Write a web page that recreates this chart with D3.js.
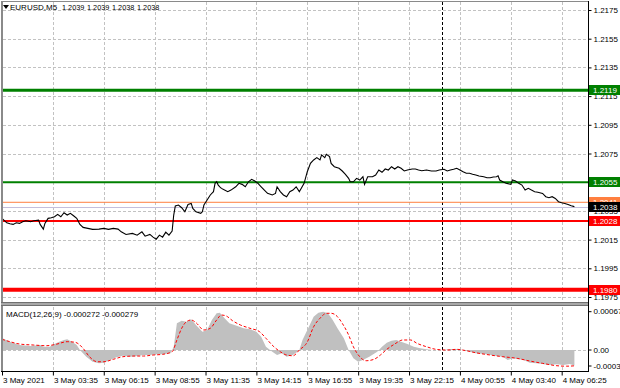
<!DOCTYPE html>
<html>
<head>
<meta charset="utf-8">
<script src="https://cdn.jsdelivr.net/npm/d3@7"></script>
<style>
	body { margin: 0; background: #fff; }
	svg { display: block; font-family: "Liberation Sans", Arial, sans-serif; }
</style>
</head>
<body>
<svg id="chart"></svg>
<script>
// chart values
const symbolTitle = "EURUSD,M5";
const ohlcText = ["1.2039", "1.2039", "1.2038", "1.2038"];
const macdTitle = "MACD(12,26,9) -0.000272 -0.000279";

const priceTicks = [1.2175, 1.2155, 1.2135, 1.2115, 1.2095, 1.2075, 1.2055, 1.2035, 1.2015, 1.1995, 1.1975];
const timeTickBars = [0, 32, 64, 96, 128, 160, 192, 224, 256, 288, 320, 352];
const timeLabels = ["3 May 2021", "3 May 03:35", "3 May 06:15", "3 May 08:55", "3 May 11:35", "3 May 14:15",
	"3 May 16:55", "3 May 19:35", "3 May 22:15", "4 May 00:55", "4 May 03:40", "4 May 06:25"];
const daySeparatorBar = 277; // 4 May 00:00
const lastBar = 360;

// horizontal levels: support / resistance, orange mark and bid
const levelValues = [1.2119, 1.2055, 1.2041, 1.2028, 1.1980];
const bidPrice = 1.2038;

const macdTicks = [0.000676, 0, -0.00034];
const macdTickLabels = ["0.000676", "0.00", "-0.00034"];

// close price [bar, price]
const closes = [
	[0,1.20298],[3,1.20267],[5,1.2026],[7,1.20256],[9,1.20267],[11,1.20263],[13,1.20274],[15,1.20281],[18,1.20274],[20,1.20281],
	[23,1.20286],[24,1.20256],[26,1.20223],[27,1.20263],[29,1.20298],[31,1.20302],[33,1.20309],[35,1.20326],[37,1.20309],[39,1.20337],
	[41,1.20321],[43,1.20333],[45,1.20316],[47,1.20298],[49,1.20256],[51,1.20235],[54,1.20228],[57,1.20221],[61,1.20223],[64,1.20228],
	[67,1.20221],[70,1.20228],[73,1.20223],[75,1.20204],[78,1.20186],[82,1.20193],[85,1.20181],[88,1.20204],[90,1.20174],[93,1.20186],
	[95,1.20167],[97,1.20153],[99,1.20181],[101,1.20167],[103,1.20202],[105,1.20181],[107,1.20209],[108,1.20321],[109,1.20384],[111,1.20391],
	[113,1.20372],[115,1.20344],[117,1.20395],[119,1.20402],[120,1.20367],[122,1.20344],[125,1.20333],[126,1.20344],[127,1.20391],[129,1.20426],
	[131,1.20461],[133,1.20484],[134,1.20542],[135,1.20553],[136,1.2053],[137,1.20518],[138,1.20507],[140,1.20495],[142,1.20484],[144,1.20495],
	[147,1.20518],[149,1.20542],[151,1.20535],[153,1.20518],[155,1.20553],[157,1.2057],[159,1.20558],[161,1.20542],[163,1.20518],[165,1.20495],
	[167,1.20472],[170,1.20461],[172,1.20472],[173,1.20518],[175,1.20484],[177,1.20461],[179,1.20449],[181,1.20484],[183,1.20495],[185,1.20518],
	[187,1.20484],[190,1.20542],[192,1.20623],[194,1.20681],[196,1.20705],[198,1.20721],[200,1.20705],[201,1.2074],[203,1.20721],[204,1.20744],
	[206,1.20728],[207,1.20681],[209,1.20658],[212,1.20647],[214,1.20628],[216,1.20605],[218,1.20577],[219,1.20553],[221,1.20553],[223,1.20577],
	[225,1.20565],[227,1.20588],[228,1.20535],[230,1.20588],[233,1.20588],[235,1.206],[237,1.20635],[239,1.20619],[241,1.20642],[243,1.20635],
	[245,1.20658],[247,1.20642],[249,1.20658],[251,1.20647],[253,1.20628],[255,1.20635],[258,1.20642],[260,1.20642],[262,1.20635],[264,1.2063],
	[267,1.20635],[270,1.20628],[273,1.20628],[275,1.20635],[278,1.2064],[280,1.20628],[282,1.20635],[284,1.2064],[286,1.20647],[288,1.20635],
	[290,1.20623],[292,1.20612],[294,1.20612],[296,1.20605],[298,1.206],[300,1.20593],[303,1.20588],[305,1.20581],[307,1.20581],[309,1.20586],
	[311,1.20588],[312,1.20595],[313,1.20565],[315,1.20553],[317,1.20542],[320,1.20535],[321,1.20565],[323,1.20558],[325,1.20542],[327,1.2053],
	[329,1.20495],[331,1.20507],[333,1.20495],[335,1.20484],[337,1.2048],[340,1.20472],[342,1.20449],[344,1.20442],[346,1.20449],[348,1.20437],
	[350,1.20414],[352,1.20407],[354,1.20402],[356,1.20395],[358,1.20386],[360,1.2038]
];

// MACD main (histogram) [bar, value]
const macdHist = [
	[0,0.000212],[5,0.000147],[11,0.000088],[18,0.000071],[24,0.000088],[26,0.000058],[30,0.000058],[33,0.000106],[36,0.000147],[39,0.000177],
	[41,0.000189],[44,0.000147],[47,0.000088],[49,0],[53,-0.000118],[57,-0.000207],[61,-0.000235],[64,-0.000224],[68,-0.000177],[72,-0.000129],
	[76,-0.000101],[81,-0.000118],[85,-0.000106],[89,-0.000088],[93,-0.000088],[97,-0.000076],[101,-0.000076],[106,-0.000058],[108,0.000058],[110,0.000471],
	[113,0.000517],[116,0.0005],[119,0.000542],[122,0.000441],[126,0.000323],[129,0.000353],[132,0.00053],[135,0.000648],[137,0.000658],[140,0.00056],
	[143,0.000471],[148,0.000424],[152,0.000383],[156,0.000365],[160,0.000323],[163,0.000235],[166,0.000058],[170,-0.00003],[173,-0.000088],[176,-0.000058],
	[179,-0.000118],[183,-0.000088],[187,0],[189,0.000177],[193,0.000411],[196,0.000588],[199,0.000658],[202,0.000676],[205,0.000648],[208,0.00053],
	[211,0.000383],[215,0.000207],[218,0],[221,-0.000147],[224,-0.000207],[227,-0.000177],[231,-0.000118],[236,-0.00003],[239,0.000058],[242,0.000129],
	[245,0.000164],[248,0.000177],[251,0.000147],[255,0.000106],[259,0.000058],[263,0.00003],[267,0.000012],[271,0],[278,0],[282,0.000018],
	[286,0.000018],[290,0],[294,-0.00003],[298,-0.000058],[305,-0.000076],[311,-0.000106],[315,-0.000118],[318,-0.000177],[321,-0.000147],[328,-0.000177],
	[332,-0.000224],[336,-0.000235],[340,-0.000247],[344,-0.000265],[349,-0.000253],[353,-0.000265],[357,-0.000247],[360,-0.000272]
];

// MACD signal line [bar, value]
const macdSignal = [
	[0,0.000189],[5,0.000147],[11,0.000106],[20,0.000088],[28,0.000076],[34,0.000101],[41,0.000147],[46,0.000136],[51,0.00003],[55,-0.000118],
	[60,-0.000207],[64,-0.000207],[70,-0.000164],[76,-0.000118],[83,-0.000106],[89,-0.000106],[95,-0.000088],[101,-0.000076],[107,-0.00003],[110,0.000177],
	[113,0.000383],[116,0.0005],[119,0.00053],[122,0.000482],[127,0.000353],[131,0.000383],[135,0.00053],[138,0.000618],[141,0.000601],[145,0.000517],
	[150,0.000441],[156,0.000383],[162,0.000323],[166,0.000207],[171,0.000058],[175,-0.00003],[179,-0.000088],[183,-0.000101],[187,0],[192,0.000141],
	[196,0.000411],[200,0.00056],[204,0.000648],[207,0.000648],[211,0.000588],[214,0.000471],[218,0.000265],[221,0.000058],[225,-0.000118],[229,-0.000189],
	[234,-0.000164],[238,-0.000088],[242,0.000012],[247,0.000106],[252,0.000177],[257,0.000177],[261,0.000118],[267,0.000058],[273,0.000012],[280,0],
	[286,0.000012],[292,-0.000012],[298,-0.000048],[307,-0.000088],[315,-0.000118],[324,-0.000147],[332,-0.000194],[340,-0.000235],[349,-0.000277],[355,-0.000285],
	[360,-0.000279]
];

// styles for the levels, same order as levelValues
const levelColors = ["#008000", "#008000", "#ff7f3f", "#ff0000", "#ff0000"];
const levelWidths = [3, 2, 1, 2, 4];

document.addEventListener("DOMContentLoaded", function () {
	const w = 620;
	const h = 388;
	const svg = d3.select("#chart").attr("width", w).attr("height", h);

	// window frames
	const axisX = 588;
	const main = { top: 2, bottom: 301 };
	const sub = { top: 307, bottom: 371 };
	const fontSize = 8;
	const gridColor = "#c2c2c2";

	const x = d3.scaleLinear().domain([0, lastBar]).range([2, 574.4]);
	const y = d3.scaleLinear().domain([1.1975, 1.2175]).range([297, 10]);
	const yMacd = d3.scaleLinear().domain([-0.00034, 0.000676]).range([369.3, 311.7]);

	// clip paths so the series stay inside their windows
	const defs = svg.append("defs");
	defs.append("clipPath").attr("id", "clipMain")
		.append("rect").attr("x", 2).attr("y", main.top).attr("width", axisX - 2).attr("height", main.bottom - main.top);
	defs.append("clipPath").attr("id", "clipSub")
		.append("rect").attr("x", 2).attr("y", sub.top).attr("width", axisX - 2).attr("height", sub.bottom - sub.top);

	// grid - horizontal in main window
	svg.append("g")
		.selectAll("line")
		.data(priceTicks)
		.enter()
		.append("line")
		.attr("x1", 3)
		.attr("x2", axisX)
		.attr("y1", (d) => Math.round(y(d)) + 0.5)
		.attr("y2", (d) => Math.round(y(d)) + 0.5)
		.attr("stroke", gridColor)
		.attr("stroke-dasharray", "3,2");

	// grid - vertical in both windows
	const vGrid = svg.append("g");
	[main, sub].forEach((win) => {
		vGrid.selectAll(null)
			.data(timeTickBars.slice(1))
			.enter()
			.append("line")
			.attr("x1", (d) => Math.round(x(d)) + 0.5)
			.attr("x2", (d) => Math.round(x(d)) + 0.5)
			.attr("y1", win.top)
			.attr("y2", win.bottom)
			.attr("stroke", gridColor)
			.attr("stroke-dasharray", "3,2");
	});
	// zero grid in macd window
	svg.append("line")
		.attr("x1", 3).attr("x2", axisX)
		.attr("y1", Math.round(yMacd(0)) + 0.5).attr("y2", Math.round(yMacd(0)) + 0.5)
		.attr("stroke", gridColor)
		.attr("stroke-dasharray", "3,2");

	// day separator
	[main, sub].forEach((win) => {
		svg.append("line")
			.attr("x1", Math.round(x(daySeparatorBar)) + 0.5)
			.attr("x2", Math.round(x(daySeparatorBar)) + 0.5)
			.attr("y1", win.top)
			.attr("y2", win.bottom)
			.attr("stroke", "#000")
			.attr("stroke-dasharray", "3,2");
	});

	// MACD histogram as silver area
	const histArea = d3.area()
		.x((d) => x(d[0]))
		.y0(yMacd(0))
		.y1((d) => yMacd(d[1]));
	svg.append("path")
		.datum(macdHist)
		.attr("clip-path", "url(#clipSub)")
		.attr("d", histArea)
		.attr("fill", "#c0c0c0");

	// MACD signal line
	const macdLine = d3.line().x((d) => x(d[0])).y((d) => yMacd(d[1])).curve(d3.curveMonotoneX);
	svg.append("path")
		.datum(macdSignal)
		.attr("clip-path", "url(#clipSub)")
		.attr("d", macdLine)
		.attr("fill", "none")
		.attr("stroke", "#ff0000")
		.attr("stroke-width", 1)
		.attr("stroke-dasharray", "3,2");

	// level lines
	svg.append("g")
		.selectAll("line")
		.data(levelValues)
		.enter()
		.append("line")
		.attr("x1", 2)
		.attr("x2", axisX)
		.attr("y1", (d) => y(d))
		.attr("y2", (d) => y(d))
		.attr("stroke", (d, i) => levelColors[i])
		.attr("stroke-width", (d, i) => levelWidths[i]);

	// bid line
	svg.append("line")
		.attr("x1", 2).attr("x2", axisX)
		.attr("y1", Math.round(y(bidPrice)) + 0.5).attr("y2", Math.round(y(bidPrice)) + 0.5)
		.attr("stroke", "#c4bedc");

	// price line
	const priceLine = d3.line().x((d) => x(d[0])).y((d) => y(d[1]));
	svg.append("path")
		.datum(closes)
		.attr("clip-path", "url(#clipMain)")
		.attr("d", priceLine)
		.attr("fill", "none")
		.attr("stroke", "#000")
		.attr("stroke-width", 1.1);

	// frames: left border, top, separator
	svg.append("rect").attr("x", 1).attr("y", 1).attr("width", 2).attr("height", sub.bottom).attr("fill", "#8a8a8a");
	svg.append("line").attr("x1", 1).attr("x2", axisX).attr("y1", 1.5).attr("y2", 1.5).attr("stroke", "#8a8a8a");
	svg.append("rect").attr("x", 1).attr("y", 302).attr("width", axisX - 1).attr("height", 4).attr("fill", "#a8a8a8");
	svg.append("line").attr("x1", 1).attr("x2", axisX).attr("y1", 302.5).attr("y2", 302.5).attr("stroke", "#707070");
	svg.append("line").attr("x1", 1).attr("x2", axisX).attr("y1", 305.5).attr("y2", 305.5).attr("stroke", "#707070");
	svg.append("line").attr("x1", 1).attr("x2", axisX).attr("y1", sub.bottom + 0.5).attr("y2", sub.bottom + 0.5).attr("stroke", "#000");

	// right price axis
	const yAxis = d3.axisRight(y).tickValues(priceTicks).tickFormat(d3.format(".4f")).tickSize(3).tickPadding(2);
	const gy = svg.append("g")
		.attr("id", "y-axis")
		.attr("transform", "translate(" + (axisX + 0.5) + ", 0)")
		.call(yAxis);
	gy.select(".domain").remove();
	gy.selectAll("text").attr("font-size", fontSize).attr("font-family", "Liberation Sans, Arial, sans-serif");
	svg.append("line").attr("x1", axisX + 0.5).attr("x2", axisX + 0.5).attr("y1", 1).attr("y2", sub.bottom + 1).attr("stroke", "#000");

	// macd axis labels
	const gm = svg.append("g").attr("transform", "translate(" + (axisX + 0.5) + ", 0)");
	gm.selectAll("line")
		.data(macdTicks)
		.enter()
		.append("line")
		.attr("x1", 0).attr("x2", 3)
		.attr("y1", (d) => Math.min(yMacd(d), 366))
		.attr("y2", (d) => Math.min(yMacd(d), 366))
		.attr("stroke", "#000");
	gm.selectAll("text")
		.data(macdTicks)
		.enter()
		.append("text")
		.attr("x", 5)
		.attr("y", (d) => Math.min(yMacd(d), 366))
		.attr("dy", "0.32em")
		.attr("font-size", fontSize)
		.text((d, i) => macdTickLabels[i]);

	// level labels on the price axis
	const labelLevels = levelValues.map((v, i) => ({ v: v, c: levelColors[i] }));
	labelLevels.splice(3, 0, { v: bidPrice, c: "#000" }); // bid box drawn above the orange one
	const lab = svg.append("g").selectAll("g").data(labelLevels).enter().append("g")
		.attr("transform", (d) => "translate(" + (axisX + 1) + "," + Math.round(y(d.v)) + ")");
	lab.append("rect")
		.attr("x", 0).attr("y", -5)
		.attr("width", 31).attr("height", 10)
		.attr("fill", (d) => d.c);
	lab.append("text")
		.attr("x", 4).attr("dy", "0.34em")
		.attr("font-size", fontSize)
		.attr("fill", "#fff")
		.text((d) => d3.format(".4f")(d.v));

	// bottom time axis
	const xAxis = d3.axisBottom(x).tickValues(timeTickBars).tickFormat((d, i) => timeLabels[i]).tickSize(4).tickPadding(2);
	const gx = svg.append("g")
		.attr("id", "x-axis")
		.attr("transform", "translate(0, " + (sub.bottom + 0.5) + ")")
		.call(xAxis);
	gx.select(".domain").remove();
	gx.selectAll("text")
		.attr("text-anchor", "start")
		.attr("x", 0.5)
		.attr("font-size", fontSize)
		.attr("font-family", "Liberation Sans, Arial, sans-serif");

	// title with the small triangle, values spaced like the terminal header
	svg.append("path").attr("d", "M3,5 L9,5 L6,9 Z").attr("fill", "#000");
	svg.append("text")
		.attr("x", 10).attr("y", 10)
		.attr("font-size", 8)
		.text(symbolTitle);
	svg.append("g")
		.selectAll("text")
		.data(ohlcText)
		.enter()
		.append("text")
		.attr("x", (d, i) => 62 + i * 25)
		.attr("y", 10)
		.attr("font-size", 7.3)
		.text((d) => d);

	svg.append("text")
		.attr("x", 6).attr("y", 317)
		.attr("font-size", fontSize)
		.text(macdTitle);
});
</script>
</body>
</html>
